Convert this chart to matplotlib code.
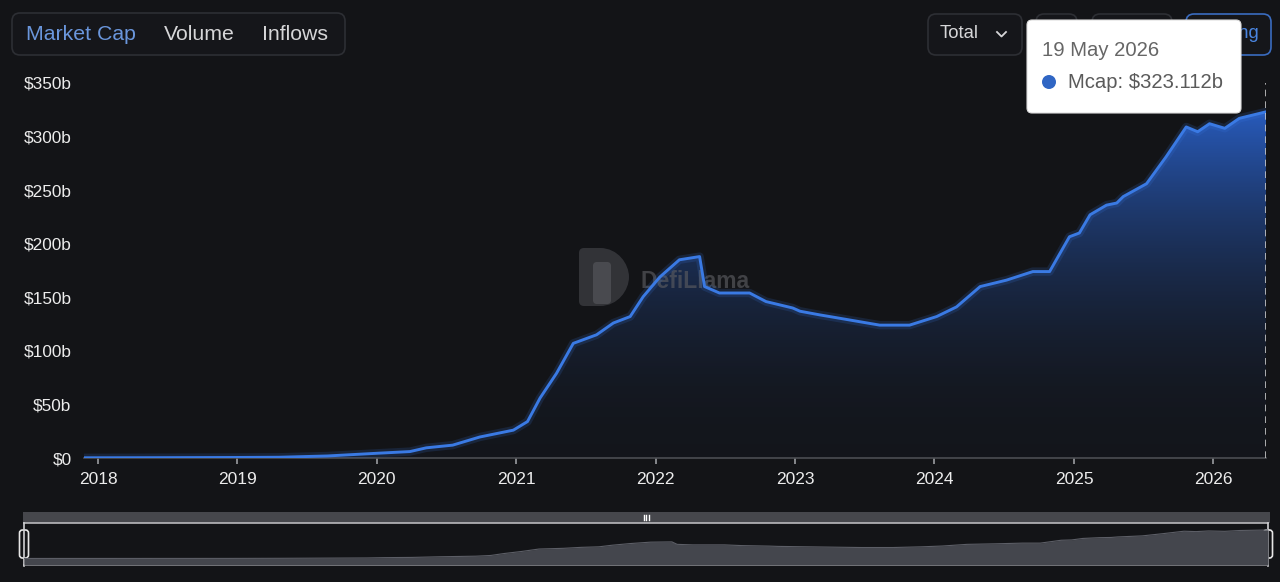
import matplotlib
matplotlib.use('Agg')
import matplotlib.pyplot as plt
import matplotlib.dates as mdates
import matplotlib.patches as patches
from matplotlib.path import Path
import numpy as np
import pandas as pd

plt.rcParams['font.family'] = ['Liberation Sans', 'DejaVu Sans']

# --- data ---
dates = ['2017-11-25', '2018-06-01', '2019-01-01', '2019-04-20', '2019-08-25',
         '2020-01-01', '2020-03-28', '2020-05-10', '2020-07-18', '2020-09-27',
         '2020-12-24', '2021-01-30', '2021-03-04', '2021-04-16', '2021-05-30',
         '2021-07-30', '2021-09-12', '2021-10-26', '2021-11-29', '2022-01-12',
         '2022-03-04', '2022-04-26', '2022-05-09', '2022-06-17', '2022-09-04',
         '2022-10-17', '2022-12-26', '2023-01-14', '2023-03-08', '2023-04-02',
         '2023-08-11', '2023-10-28', '2024-01-07', '2024-02-28', '2024-04-30',
         '2024-07-08', '2024-09-15', '2024-10-29', '2024-12-20', '2025-01-15',
         '2025-02-12', '2025-03-27', '2025-04-23', '2025-05-10', '2025-07-10',
         '2025-08-30', '2025-10-22', '2025-11-21', '2025-12-22', '2026-01-31',
         '2026-03-10', '2026-05-19']
mcap = [0.2, 0.3, 0.5, 0.7, 1.9,
        4.4, 6.0, 9.5, 12.0, 19.6,
        26.0, 34.0, 56.0, 79.0, 107.0,
        115.0, 126.0, 132.0, 150.5, 169.0,
        185.0, 188.0, 160.0, 154.0, 154.0,
        146.0, 140.0, 137.0, 133.5, 132.0,
        124.0, 124.0, 132.0, 141.0, 160.0,
        166.0, 174.0, 174.0, 206.5, 210.0,
        227.0, 236.0, 238.0, 244.0, 256.0,
        281.0, 309.0, 304.5, 312.0, 307.7,
        317.0, 323.1]
years = list(range(2018, 2027))
yticks = [0, 50, 100, 150, 200, 250, 300, 350]
ylabels = ['$0', '$50b', '$100b', '$150b', '$200b', '$250b', '$300b', '$350b']
tabs = ['Market Cap', 'Volume', 'Inflows']
tip_date = '19 May 2026'
tip_value = 'Mcap: $323.112b'

BG = '#131417'
W, H = 1280, 582

x = mdates.date2num(pd.to_datetime(dates))
y = np.array(mcap)

fig = plt.figure(figsize=(W / 100, H / 100), dpi=100, facecolor=BG)

def fx(px):
    return px / W

def fy(py):
    return 1 - py / H

# main chart
ax = fig.add_axes([fx(84), fy(458), fx(1266) - fx(84), fy(83) - fy(458)])
ax.set_facecolor(BG)
ax.set_xlim(x[0], x[-1])
ax.set_ylim(0, 350)

# gradient fill under the line: blue at the top fading into the background
grad = np.zeros((256, 1, 4))
t = np.linspace(0, 1, 256)
grad[:, 0, 0] = 0.16
grad[:, 0, 1] = 0.36
grad[:, 0, 2] = 0.74
grad[:, 0, 3] = 0.03 + 0.97 * t ** 2
im = ax.imshow(grad, extent=[x[0], x[-1], 0, y.max()], origin='lower',
               aspect='auto', zorder=2)
verts = list(zip(x, y)) + [(x[-1], 0), (x[0], 0), (x[0], y[0])]
clip = patches.PathPatch(Path(verts), transform=ax.transData, facecolor='none',
                         edgecolor='none')
ax.add_patch(clip)
im.set_clip_path(clip)

ax.plot(x, y, color='#3b7be6', lw=6, alpha=0.16, zorder=4, solid_joinstyle='round')
ax.plot(x, y, color='#3a7ae4', lw=2.1, zorder=4, solid_joinstyle='round')
ax.axvline(x[-1], color='#c8c8c8', lw=1.2, ls=(0, (4, 3)), zorder=5)

for s in ['top', 'right', 'left']:
    ax.spines[s].set_visible(False)
ax.spines['bottom'].set_color('#4b4d52')
ax.spines['bottom'].set_linewidth(1.2)

ax.set_yticks(yticks)
ax.set_yticklabels(ylabels)
ax.tick_params(axis='y', length=0, pad=9, labelsize=12.4, labelcolor='#ececec')
ax.set_xticks(mdates.date2num([pd.Timestamp(f'{yr}-01-01') for yr in years]))
ax.set_xticklabels([str(yr) for yr in years])
ax.tick_params(axis='x', length=4.5, width=1.2, color='#9a9ca0', pad=5.5,
               labelsize=12.5, labelcolor='#ececec')

# overlay for the UI parts, in pixel coordinates
ov = fig.add_axes([0, 0, 1, 1])
ov.set_xlim(0, W)
ov.set_ylim(H, 0)
ov.axis('off')
ov.patch.set_alpha(0)

# watermark (faint, over the fill, under the line)
d_shape = Path([(584, 248), (600, 248), (618, 248), (629, 264), (629, 277),
                (629, 290), (618, 306), (600, 306), (584, 306), (579, 306),
                (579, 301), (579, 253), (579, 248), (584, 248)],
               [Path.MOVETO, Path.LINETO, Path.CURVE4, Path.CURVE4, Path.CURVE4,
                Path.CURVE4, Path.CURVE4, Path.CURVE4, Path.LINETO, Path.CURVE3,
                Path.CURVE3, Path.LINETO, Path.CURVE3, Path.CURVE3])
ax.add_patch(patches.PathPatch(d_shape, facecolor='#3a3b40', edgecolor='none', alpha=0.8,
                               transform=ov.transData, zorder=3, clip_on=False))
ax.add_patch(patches.FancyBboxPatch((593, 262), 18, 42, boxstyle='round,pad=0,rounding_size=4',
                                    facecolor='#5a5b60', edgecolor='none', alpha=0.6,
                                    transform=ov.transData, zorder=3, clip_on=False))
ax.text(640, 281, 'DefiLlama', transform=ov.transData, fontsize=16.5,
        fontweight='bold', color='#5a5b60', alpha=0.65, va='center', ha='left',
        zorder=3, clip_on=False)

# tabs
ov.add_patch(patches.FancyBboxPatch((12, 13), 333, 42, boxstyle='round,pad=0,rounding_size=8',
                                    facecolor='#15161a', edgecolor='#2d2f34', lw=1.2))
tab_x = [26, 164, 262]
tab_col = ['#6a96dc', '#d6d6d8', '#d6d6d8']
for lab, tx, tc in zip(tabs, tab_x, tab_col):
    ov.text(tx, 35, lab, fontsize=15.3, color=tc, va='center', ha='left')

# buttons on the right
ov.add_patch(patches.FancyBboxPatch((928, 14), 94, 41, boxstyle='round,pad=0,rounding_size=8',
                                    facecolor='#15161a', edgecolor='#2d2f34', lw=1.2))
ov.text(940, 34, 'Total', fontsize=13.3, color='#d6d6d8', va='center', ha='left')
ov.plot([997, 1001.5, 1006], [32, 36.5, 32], color='#d6d6d8', lw=1.3)
ov.add_patch(patches.FancyBboxPatch((1036, 14), 41, 41, boxstyle='round,pad=0,rounding_size=8',
                                    facecolor='#15161a', edgecolor='#2d2f34', lw=1.2))
ov.add_patch(patches.FancyBboxPatch((1092, 14), 80, 41, boxstyle='round,pad=0,rounding_size=8',
                                    facecolor='#15161a', edgecolor='#2d2f34', lw=1.2))
ov.add_patch(patches.FancyBboxPatch((1186, 14), 85, 41, boxstyle='round,pad=0,rounding_size=8',
                                    facecolor='#15161a', edgecolor='#3a6cc0', lw=1.2))
ov.text(1259, 34, 'Stacking', fontsize=13.3, color='#4a85e0', va='center', ha='right')

# tooltip
ov.add_patch(patches.FancyBboxPatch((1027, 20), 214, 93, boxstyle='round,pad=0,rounding_size=5',
                                    facecolor='white', edgecolor='#dddddd', lw=0.8, zorder=10))
ov.text(1042, 51, tip_date, fontsize=14.6, color='#666666', va='center', ha='left', zorder=11)
ov.add_patch(patches.Circle((1049, 82), 7, facecolor='#3066c4', edgecolor='none', zorder=11))
ov.text(1068, 82, tip_value, fontsize=14.6, color='#5a5a5a', va='center', ha='left', zorder=11)

# data zoom slider at the bottom
ov.add_patch(patches.Rectangle((23, 512), 1247, 11, facecolor='#46474c', edgecolor='none'))
for gx in [643.5, 646, 648.5]:
    ov.plot([gx, gx], [515, 520], color='white', lw=1.0)

mini = fig.add_axes([fx(24), fy(565), fx(1268) - fx(24), fy(523) - fy(565)])
mini.set_xlim(x[0], x[-1])
mini.set_ylim(-74, 402)
mini.axis('off')
mini.patch.set_alpha(0)
mini.fill_between(x, y, -74, color='#44464d', lw=0)
mini.plot(x, y, color='#5c5e66', lw=0.8)

ov.plot([24, 1268], [523, 523], color='#b9b9bc', lw=1.2)
ov.plot([24, 1268], [565, 565], color='#b9b9bc', lw=1.2)
for hx in [24, 1268]:
    ov.plot([hx, hx], [523, 566], color='#d0d0d3', lw=1.2)
    ov.add_patch(patches.FancyBboxPatch((hx - 4.5, 530), 9, 28,
                                        boxstyle='round,pad=0,rounding_size=3',
                                        facecolor='#131417', edgecolor='#e6e6e6', lw=1.2))

fig.savefig('out.png', dpi=100, facecolor=BG)
